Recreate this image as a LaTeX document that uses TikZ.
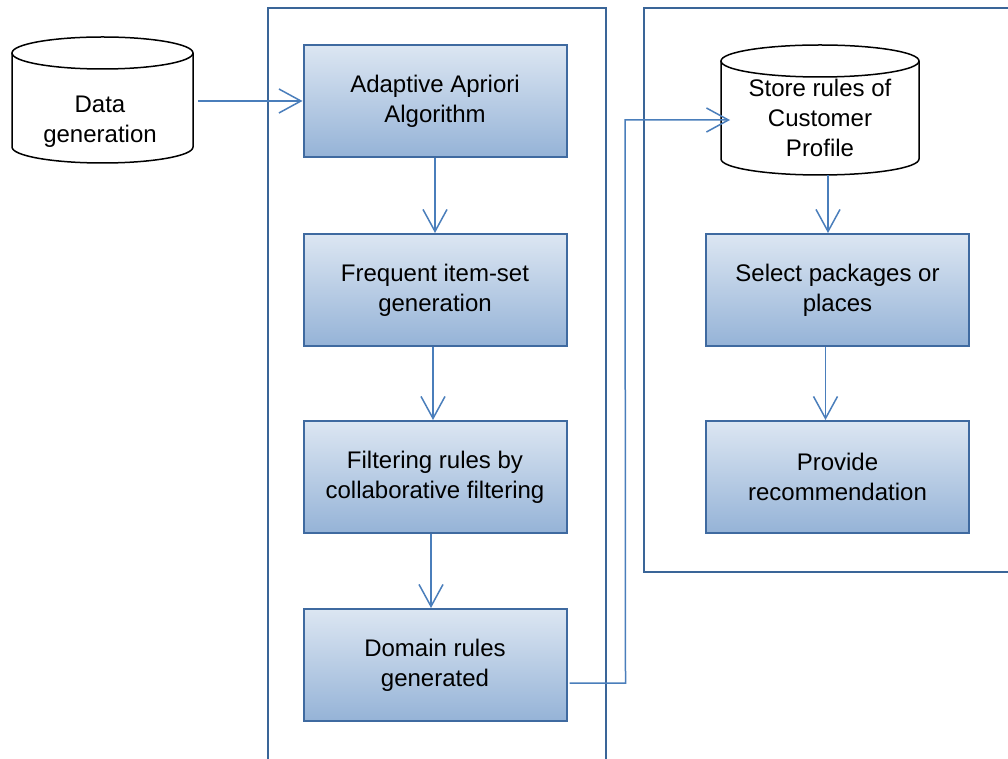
\documentclass[tikz,border=0pt]{standalone}
\usepackage{fontspec}
\setmainfont{Liberation Sans}
\usetikzlibrary{arrows.meta,shadows}
\definecolor{boxtop}{HTML}{DCE6F2}
\definecolor{boxbot}{HTML}{95B3D7}
\definecolor{boxline}{HTML}{3F6AA0}
\definecolor{frameline}{HTML}{3A6598}
\definecolor{arrowcol}{HTML}{4A7EBB}
\tikzset{
  procbox/.style={draw=boxline, line width=2pt, top color=boxtop, bottom color=boxbot,
    minimum width=263pt, minimum height=112pt, align=center, inner sep=0pt,
    font=\fontsize{24}{30}\selectfont,
    drop shadow={shadow xshift=1.2pt, shadow yshift=-1.2pt, opacity=0.35, fill=gray}},
  frame/.style={draw=frameline, line width=1.8pt},
  flow/.style={draw=arrowcol, line width=1.5pt, -{Straight Barb[length=22pt,width=24pt,line width=1.5pt]}},
  cyl/.style={draw=black, line width=1.5pt, fill=white},
  cyltext/.style={align=center, inner sep=0pt, font=\fontsize{24}{30}\selectfont}
}
\begin{document}
\begin{tikzpicture}[x=1pt,y=1pt]
\useasboundingbox (0,0) rectangle (1008,758);
\clip (0,0) rectangle (1008,758);
\fill[white] (0,0) rectangle (1008,758);
% frames
\draw[frame] (268,-10) -- (268,750) -- (606,750) -- (606,-10);
\draw[frame] (1020,750) -- (644,750) -- (644,186) -- (1020,186);
% cylinder 1
\draw[cyl] (12,705) -- (12,611) arc[start angle=180,end angle=360,x radius=90.5,y radius=16] -- (193,705);
\draw[cyl] (102.5,705) ellipse[x radius=90.5,y radius=16];
\node[cyltext] (dg) at (100,636) {Data\\generation};
\coordinate (dgout) at (198,657);
% cylinder 2
\draw[cyl] (721,697) -- (721,599) arc[start angle=180,end angle=360,x radius=99,y radius=16] -- (919,697);
\draw[cyl] (820,697) ellipse[x radius=99,y radius=16];
\node[cyltext] (st) at (820,640) {Store rules of\\Customer\\Profile};
\coordinate (stbot) at (828,583);
\coordinate (stin) at (730,638);
% boxes
\node[procbox] (b1) at (435,657) {Adaptive Apriori\\Algorithm};
\node[procbox] (b2) at (435,468) {Frequent item-set\\generation};
\node[procbox] (b3) at (435,281) {Filtering rules by\\collaborative filtering};
\node[procbox] (b4) at (435,93) {Domain rules\\generated};
\node[procbox] (b5) at (837.5,468) {Select packages or\\places};
\node[procbox] (b6) at (837.5,281) {Provide\\recommendation};
% arrows
\draw[flow] (dgout) -- (b1.west);
\draw[flow] (b1.south) -- (b2.north);
\draw[flow] ([xshift=-2pt]b2.south) -- ([xshift=-2pt]b3.north);
\draw[flow] ([xshift=-4pt]b3.south) -- ([xshift=-4pt]b4.north);
\draw[flow] (stbot) -- (b5.north -| stbot);
\draw[flow] ([xshift=-12pt]b5.south) -- ([xshift=-12pt]b6.north);
\draw[flow] ([xshift=2pt,yshift=-18pt]b4.east) -- ++(56,0) -- (625,638) -- (stin);
\end{tikzpicture}
\end{document}
